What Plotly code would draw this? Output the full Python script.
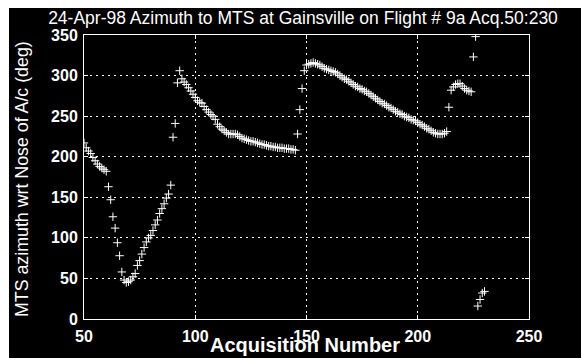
import plotly.graph_objects as go

# Acquisition numbers 50..230 and the MTS azimuth relative to the aircraft nose (deg)
acq_start = 50
azimuth_deg = [
    217, 211, 207, 204, 199, 195, 191, 188, 186, 184,
    182, 163, 147, 126, 112, 94, 78, 58, 48, 45,
    46, 48, 52, 56, 66, 72, 80, 88, 95, 100,
    103, 109, 116, 122, 130, 136, 142, 149, 154, 165,
    224, 241, 291, 306, 296, 292, 289, 285, 281, 277,
    273, 269, 267, 266, 262, 258, 255, 252, 250, 246,
    240, 237, 234, 232, 230, 228, 228, 228, 228, 227,
    225, 223, 222, 221, 220, 219, 219, 218, 217, 216,
    215, 215, 214, 213, 213, 212, 212, 211, 211, 211,
    210, 210, 210, 209, 209, 208, 228, 258, 284, 306,
    313, 314, 315, 316, 315, 314, 313, 311, 309, 308,
    307, 306, 305, 304, 302, 300, 298, 296, 295, 293,
    291, 289, 287, 286, 284, 283, 281, 280, 278, 276,
    274, 272, 270, 268, 266, 265, 263, 261, 260, 258,
    256, 255, 253, 252, 250, 249, 248, 246, 245, 244,
    242, 240, 239, 237, 235, 234, 232, 230, 229, 228,
    228, 228, 229, 231, 261, 282, 286, 289, 290, 290,
    287, 284, 282, 281, 280, 323, 348, 16, 24, 32,
    34,
]
acquisition = list(range(acq_start, acq_start + len(azimuth_deg)))

x_ticks = [50, 100, 150, 200, 250]
y_ticks = [0, 50, 100, 150, 200, 250, 300, 350]

title_text = "24-Apr-98 Azimuth to MTS at Gainsville on Flight # 9a Acq.50:230"
x_title = "Acquisition Number"
y_title = "MTS azimuth wrt Nose of A/c (deg)"

FONT = "Liberation Sans, Arial, sans-serif"

fig = go.Figure()
fig.add_trace(go.Scatter(
    x=acquisition, y=azimuth_deg, mode="markers",
    marker=dict(symbol="cross-thin", size=6, color="white",
                line=dict(color="white", width=1)),
    hoverinfo="x+y", showlegend=False,
))

# plot-area geometry in pixels
W, H = 581, 358
L, R, T, B = 84, 52, 35, 39
pw, ph = W - L - R, H - T - B

def px_to_paper_x(px):
    return (px - L) / pw

def px_to_paper_y(py):
    return (H - B - py) / ph

shapes = [
    # white strips along the top and left of the page
    dict(type="rect", xref="paper", yref="paper",
         x0=px_to_paper_x(0), x1=px_to_paper_x(W),
         y0=px_to_paper_y(8), y1=px_to_paper_y(0),
         fillcolor="white", line=dict(width=0), layer="above"),
    dict(type="rect", xref="paper", yref="paper",
         x0=px_to_paper_x(0), x1=px_to_paper_x(9),
         y0=px_to_paper_y(H), y1=px_to_paper_y(0),
         fillcolor="white", line=dict(width=0), layer="above"),
]

axis_common = dict(
    showline=True, linecolor="white", linewidth=1, mirror="ticks",
    ticks="inside", ticklen=4, tickcolor="white",
    showgrid=True, gridcolor="white", griddash="2px,4px", gridwidth=1,
    zeroline=False, automargin=False,
    tickfont=dict(family=FONT, size=16, color="white", weight="bold"),
)

annotations = [
    dict(text=x_title, xref="paper", yref="paper",
         x=px_to_paper_x(305), y=px_to_paper_y(345),
         xanchor="center", yanchor="middle", showarrow=False,
         font=dict(family=FONT, size=20, color="white", weight="bold")),
    dict(text=y_title, xref="paper", yref="paper", textangle=-90,
         x=px_to_paper_x(22), y=px_to_paper_y(179),
         xanchor="center", yanchor="middle", showarrow=False,
         font=dict(family=FONT, size=17.8, color="white")),
]

fig.update_layout(
    width=W, height=H, autosize=False,
    margin=dict(l=L, r=R, t=T, b=B, autoexpand=False),
    paper_bgcolor="black", plot_bgcolor="black",
    shapes=shapes, annotations=annotations,
    title=dict(text=title_text, x=px_to_paper_x(303), xref="paper",
               xanchor="center", y=1 - 18 / H, yanchor="middle",
               automargin=False,
               font=dict(family=FONT, size=17.5, color="white")),
    xaxis=dict(range=[50, 250], tickvals=x_ticks, ticklabelstandoff=3,
               **axis_common),
    yaxis=dict(range=[0, 350], tickvals=y_ticks, ticklabelstandoff=2,
               **axis_common),
)

fig.write_html("out.html")
